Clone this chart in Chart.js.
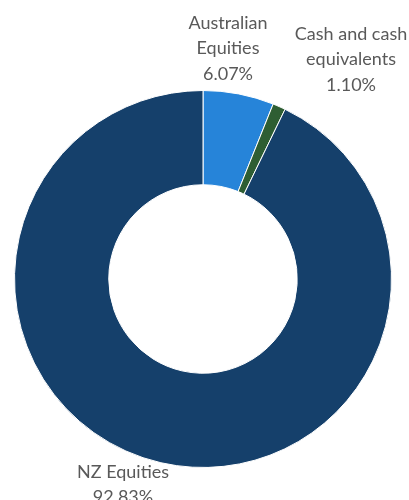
<!DOCTYPE html>
<html>
<head>
<meta charset="utf-8">
<script src="https://cdn.jsdelivr.net/npm/chart.js@4"></script>
<style>
    body { margin: 0; background: #fff; }
    #wrap { width: 409px; height: 500px; position: relative; }
</style>
</head>
<body>
<div id="wrap"><canvas id="donut"></canvas></div>
<script>
const categories = ['Australian Equities', 'Cash and cash equivalents', 'NZ Equities'];
const shares = [6.07, 1.10, 92.83];
const labelLines = [
    ['Australian', 'Equities'],
    ['Cash and cash', 'equivalents'],
    ['NZ Equities']
];
const sliceColors = ['#2684d9', '#2e5e33', '#15406b'];

// where each label block sits, as offset from the doughnut centre (px)
const labelSpots = [
    { dx: 25, dy: -256 },
    { dx: 148, dy: -245 },
    { dx: -80, dy: 193 }
];

const outsideLabels = {
    id: 'outsideLabels',
    afterDraw(chart) {
        const ctx = chart.ctx;
        const arc = chart.getDatasetMeta(0).data[0];
        ctx.save();
        ctx.font = '18px Lato, "Open Sans", sans-serif';
        ctx.fillStyle = '#595959';
        ctx.textAlign = 'center';
        ctx.textBaseline = 'middle';
        const lh = 25.5;
        for (let i = 0; i < categories.length; i++) {
            const lines = labelLines[i].concat([shares[i].toFixed(2) + '%']);
            const x = arc.x + labelSpots[i].dx;
            const y = arc.y + labelSpots[i].dy;
            for (let j = 0; j < lines.length; j++) {
                ctx.fillText(lines[j], x, y + j * lh);
            }
        }
        ctx.restore();
    }
};

new Chart('donut', {
    type: 'doughnut',
    data: {
        labels: categories,
        datasets: [{
            data: shares,
            backgroundColor: sliceColors,
            borderColor: '#ffffff',
            borderWidth: 1
        }]
    },
    options: {
        responsive: true,
        maintainAspectRatio: false,
        animation: false,
        cutout: '50%',
        layout: { padding: { top: 90, bottom: 32, left: 14, right: 17 } },
        plugins: {
            legend: { display: false },
            tooltip: { enabled: false }
        }
    },
    plugins: [outsideLabels]
});
</script>
</body>
</html>
